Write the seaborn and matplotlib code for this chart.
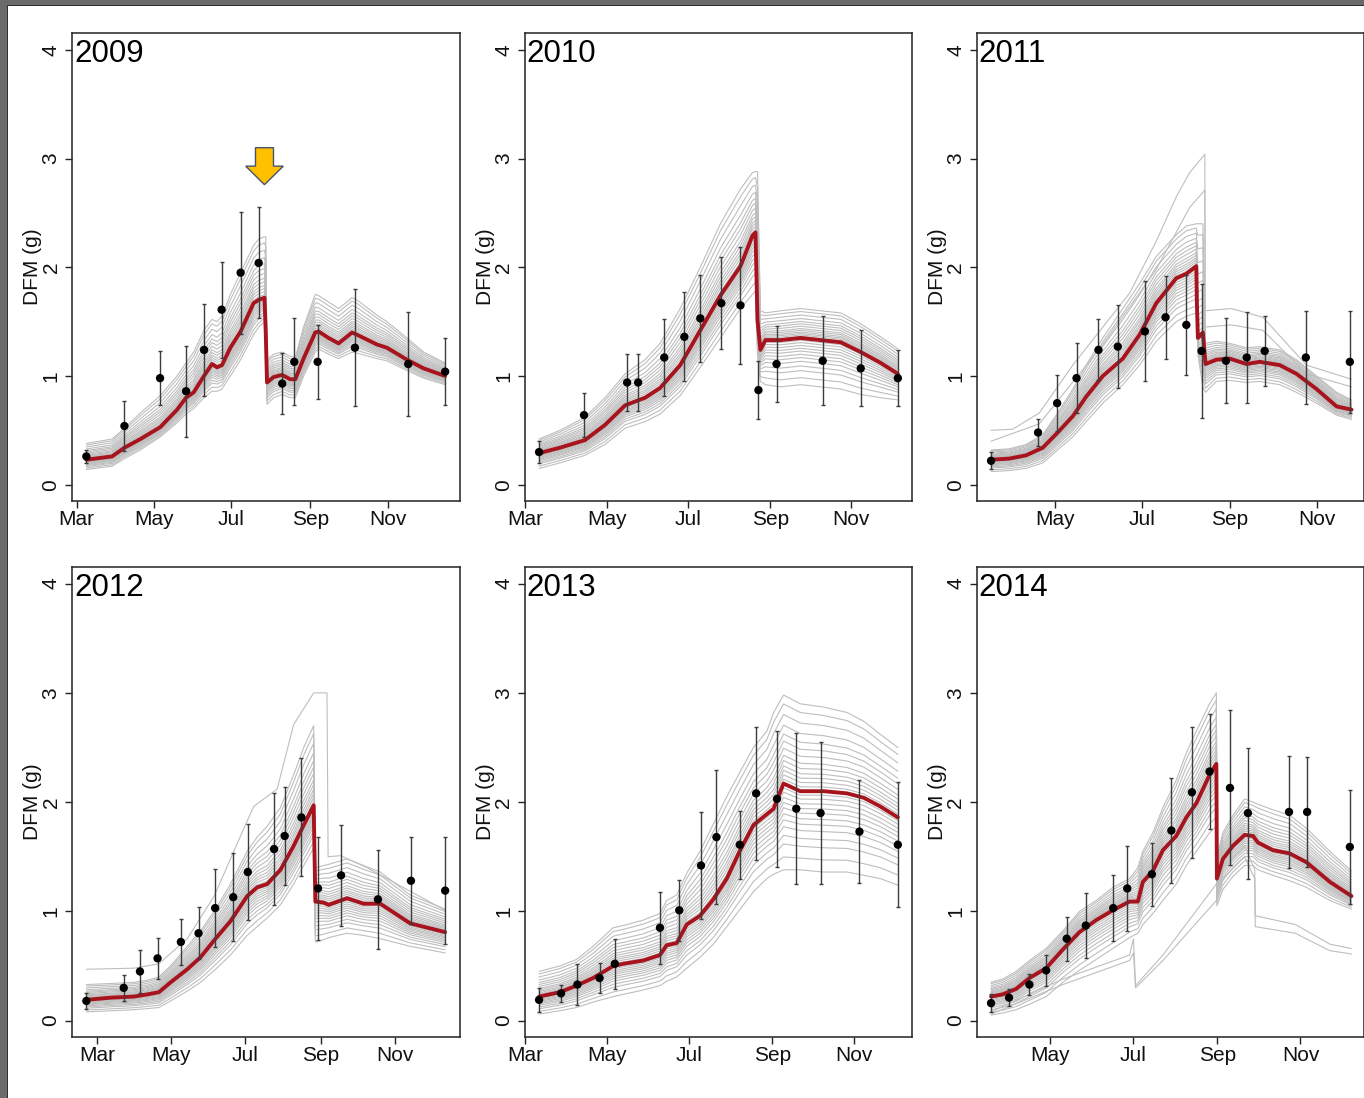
import numpy as np
import pandas as pd
import matplotlib
matplotlib.use("Agg")
import matplotlib.pyplot as plt
import matplotlib.dates as mdates
import matplotlib.patches as mpatches
import seaborn as sns

# ---------------------------------------------------------------------------
# Observed dry foliage mass (day of year, mean, +/- error)
# ---------------------------------------------------------------------------
obs_2009_doy = [67.6, 97.6, 125.7, 146.2, 160.4, 174.2, 189.2, 203.4, 222.0, 231.5, 249.9, 279.3, 321.3, 350.4]
obs_2009_dfm = [0.26, 0.54, 0.98, 0.86, 1.24, 1.61, 1.95, 2.04, 0.93, 1.13, 1.13, 1.26, 1.11, 1.04]
obs_2009_err = [0.06, 0.23, 0.25, 0.42, 0.42, 0.44, 0.56, 0.51, 0.28, 0.40, 0.34, 0.54, 0.48, 0.31]

obs_2010_doy = [70.2, 104.0, 136.4, 144.7, 164.3, 179.4, 191.4, 207.2, 221.6, 235.1, 248.7, 283.4, 312.0, 339.9]
obs_2010_dfm = [0.30, 0.64, 0.94, 0.94, 1.17, 1.36, 1.53, 1.67, 1.65, 0.87, 1.11, 1.14, 1.07, 0.98]
obs_2010_err = [0.10, 0.20, 0.26, 0.26, 0.35, 0.41, 0.40, 0.42, 0.54, 0.27, 0.35, 0.41, 0.35, 0.26]

obs_2011_doy = [76.3, 109.3, 122.7, 136.3, 151.7, 165.3, 184.3, 198.8, 213.4, 224.1, 241.2, 255.8, 268.4, 297.3, 328.2]
obs_2011_dfm = [0.22, 0.48, 0.75, 0.98, 1.24, 1.27, 1.41, 1.54, 1.47, 1.23, 1.14, 1.17, 1.23, 1.17, 1.13]
obs_2011_err = [0.08, 0.12, 0.26, 0.32, 0.28, 0.38, 0.46, 0.38, 0.46, 0.62, 0.39, 0.42, 0.32, 0.43, 0.47]

obs_2012_doy = [51.9, 82.7, 96.1, 110.6, 129.8, 144.4, 158.1, 173.0, 185.0, 206.7, 215.4, 229.2, 242.9, 261.9, 292.3, 319.5, 347.7]
obs_2012_dfm = [0.18, 0.30, 0.45, 0.57, 0.72, 0.80, 1.03, 1.13, 1.36, 1.57, 1.69, 1.86, 1.21, 1.33, 1.11, 1.28, 1.19]
obs_2012_err = [0.07, 0.12, 0.20, 0.19, 0.21, 0.24, 0.36, 0.40, 0.44, 0.51, 0.45, 0.54, 0.47, 0.46, 0.45, 0.40, 0.49]

obs_2013_doy = [70.2, 86.6, 98.8, 115.3, 126.7, 160.3, 174.7, 190.9, 202.4, 219.8, 232.0, 247.5, 261.9, 280.0, 309.0, 337.6]
obs_2013_dfm = [0.19, 0.25, 0.33, 0.39, 0.52, 0.85, 1.01, 1.42, 1.68, 1.61, 2.08, 2.03, 1.94, 1.90, 1.73, 1.61]
obs_2013_err = [0.11, 0.08, 0.19, 0.14, 0.23, 0.33, 0.28, 0.49, 0.61, 0.31, 0.61, 0.62, 0.69, 0.65, 0.47, 0.57]

obs_2014_doy = [77.6, 90.8, 105.8, 118.1, 133.2, 147.2, 167.4, 177.7, 195.8, 210.1, 225.2, 238.2, 253.2, 266.4, 296.6, 309.9, 341.3]
obs_2014_dfm = [0.16, 0.21, 0.33, 0.46, 0.75, 0.87, 1.03, 1.21, 1.34, 1.74, 2.09, 2.28, 2.13, 1.90, 1.91, 1.91, 1.59]
obs_2014_err = [0.08, 0.08, 0.10, 0.14, 0.20, 0.30, 0.30, 0.39, 0.29, 0.48, 0.60, 0.53, 0.71, 0.60, 0.51, 0.50, 0.52]

# ---------------------------------------------------------------------------
# Simulated DFM: best run plus the upper / lower edge of the ensemble band
# ---------------------------------------------------------------------------
fit_2009_doy = [67.6, 87.9, 97.6, 110.2, 125.9, 139.1, 146.2, 152.2, 160.3, 166.6, 170.6, 174.5, 181.1, 189.2, 199.4,
                203.4, 208.0, 209.0, 210.0, 215.2, 221.8, 228.3, 232.3, 238.8, 248.0, 250.6, 258.5, 266.4, 277.0,
                280.9, 296.6, 304.5, 320.3, 333.4, 350.4]
fit_2009_best = [0.23, 0.26, 0.34, 0.42, 0.53, 0.69, 0.80, 0.85, 1.00, 1.11, 1.08, 1.10, 1.26, 1.41, 1.67, 1.70, 1.72,
                 1.40, 0.94, 0.99, 1.01, 0.97, 0.97, 1.16, 1.40, 1.41, 1.35, 1.30, 1.40, 1.38, 1.29, 1.26, 1.15, 1.07, 1.00]
fit_2009_hi = [0.38, 0.42, 0.52, 0.66, 0.82, 1.00, 1.12, 1.22, 1.42, 1.52, 1.50, 1.55, 1.75, 1.95, 2.20, 2.26, 2.28,
               2.28, 1.15, 1.20, 1.22, 1.18, 1.17, 1.45, 1.75, 1.74, 1.68, 1.62, 1.72, 1.70, 1.56, 1.50, 1.35, 1.22, 1.12]
fit_2009_lo = [0.14, 0.17, 0.24, 0.32, 0.44, 0.57, 0.65, 0.70, 0.80, 0.86, 0.86, 0.88, 1.00, 1.15, 1.38, 1.45, 1.50,
               1.30, 0.74, 0.80, 0.83, 0.80, 0.80, 1.00, 1.22, 1.25, 1.20, 1.16, 1.22, 1.21, 1.16, 1.14, 1.05, 0.98, 0.92]

fit_2010_doy = [70.2, 85.9, 104.7, 119.8, 134.9, 149.9, 161.2, 176.3, 191.4, 206.5, 221.6, 230.6, 232.9, 234.4, 236.6,
                240.4, 251.7, 266.8, 281.9, 297.0, 312.0, 327.0, 339.9]
fit_2010_best = [0.29, 0.34, 0.41, 0.55, 0.73, 0.80, 0.89, 1.10, 1.42, 1.74, 2.01, 2.29, 2.32, 1.51, 1.24, 1.33, 1.33,
                 1.35, 1.33, 1.31, 1.22, 1.12, 1.02]
fit_2010_hi = [0.42, 0.50, 0.62, 0.80, 1.02, 1.15, 1.30, 1.62, 2.00, 2.40, 2.72, 2.87, 2.88, 2.88, 1.60, 1.58, 1.60,
               1.62, 1.60, 1.58, 1.48, 1.36, 1.25]
fit_2010_lo = [0.15, 0.20, 0.27, 0.37, 0.52, 0.58, 0.65, 0.82, 1.08, 1.35, 1.62, 1.75, 1.78, 1.20, 0.95, 0.92, 0.90,
               0.92, 0.90, 0.88, 0.83, 0.80, 0.78]

fit_2011_doy = [76.3, 89.1, 100.9, 112.6, 123.1, 133.7, 143.1, 154.8, 168.8, 180.6, 192.3, 206.4, 213.4, 220.4, 220.8,
                221.5, 225.0, 226.9, 234.5, 243.8, 255.6, 264.9, 279.0, 290.7, 304.8, 318.9, 329.4]
fit_2011_best = [0.23, 0.24, 0.27, 0.34, 0.48, 0.63, 0.81, 1.00, 1.16, 1.38, 1.67, 1.90, 1.94, 2.01, 1.68, 1.35, 1.40,
                 1.11, 1.15, 1.16, 1.11, 1.13, 1.10, 1.02, 0.88, 0.72, 0.69]
fit_2011_hi = [0.32, 0.33, 0.37, 0.46, 0.66, 0.88, 1.10, 1.35, 1.62, 1.85, 2.10, 2.30, 2.38, 2.40, 2.40, 2.40, 2.40,
               1.30, 1.32, 1.30, 1.26, 1.27, 1.24, 1.15, 1.00, 0.85, 0.78]
fit_2011_lo = [0.12, 0.13, 0.15, 0.20, 0.32, 0.44, 0.58, 0.75, 0.92, 1.10, 1.32, 1.50, 1.55, 1.58, 1.50, 1.20, 0.90,
               0.85, 0.95, 0.96, 0.94, 0.95, 0.92, 0.85, 0.75, 0.64, 0.60]

fit_2012_doy = [51.9, 72.0, 91.1, 102.2, 111.7, 121.3, 135.1, 146.0, 158.4, 170.7, 184.5, 192.7, 201.0, 211.9, 222.8,
                231.1, 239.3, 240.7, 247.5, 251.7, 266.8, 280.5, 294.2, 318.9, 347.7]
fit_2012_best = [0.19, 0.21, 0.22, 0.24, 0.26, 0.35, 0.47, 0.58, 0.75, 0.91, 1.14, 1.22, 1.25, 1.38, 1.60, 1.79, 1.97,
                 1.09, 1.08, 1.06, 1.12, 1.07, 1.07, 0.89, 0.81]
fit_2012_hi = [0.33, 0.34, 0.35, 0.37, 0.40, 0.50, 0.68, 0.82, 1.02, 1.25, 1.55, 1.68, 1.78, 1.95, 2.25, 2.50, 2.70,
               1.40, 1.42, 1.43, 1.48, 1.42, 1.36, 1.15, 1.02]
fit_2012_lo = [0.08, 0.09, 0.10, 0.11, 0.12, 0.18, 0.27, 0.35, 0.47, 0.60, 0.78, 0.86, 0.94, 1.06, 1.25, 1.42, 1.58,
               0.72, 0.74, 0.76, 0.80, 0.78, 0.75, 0.68, 0.62]

fit_2013_doy = [70.2, 85.6, 98.1, 110.5, 125.4, 132.9, 147.8, 160.3, 165.3, 172.8, 180.3, 190.2, 200.1, 210.1, 220.1,
                230.0, 240.0, 245.0, 252.4, 264.9, 282.3, 299.8, 312.2, 324.6, 337.6]
fit_2013_best = [0.22, 0.26, 0.32, 0.39, 0.50, 0.52, 0.55, 0.60, 0.69, 0.71, 0.88, 0.96, 1.11, 1.30, 1.56, 1.79, 1.89,
                 1.94, 2.17, 2.10, 2.10, 2.08, 2.04, 1.96, 1.86]
fit_2013_hi = [0.45, 0.50, 0.56, 0.68, 0.85, 0.87, 0.92, 0.98, 1.10, 1.15, 1.35, 1.55, 1.80, 2.05, 2.28, 2.50, 2.65,
               2.82, 2.98, 2.90, 2.87, 2.82, 2.74, 2.62, 2.50]
fit_2013_lo = [0.06, 0.09, 0.12, 0.17, 0.22, 0.24, 0.28, 0.32, 0.36, 0.40, 0.48, 0.58, 0.70, 0.86, 1.02, 1.18, 1.30,
               1.34, 1.38, 1.38, 1.36, 1.36, 1.33, 1.30, 1.24]

fit_2014_doy = [77.6, 86.1, 96.0, 105.8, 118.1, 130.3, 142.6, 154.9, 167.1, 179.4, 185.5, 189.2, 196.5, 203.9, 213.7,
                221.1, 228.5, 238.2, 243.2, 243.6, 248.0, 255.4, 264.0, 270.1, 273.8, 284.8, 297.1, 309.4, 326.6, 342.5]
fit_2014_best = [0.22, 0.24, 0.29, 0.39, 0.48, 0.65, 0.81, 0.92, 1.01, 1.09, 1.09, 1.27, 1.37, 1.56, 1.69, 1.86, 1.99,
                 2.25, 2.35, 1.30, 1.48, 1.60, 1.70, 1.69, 1.63, 1.56, 1.53, 1.45, 1.27, 1.14]
fit_2014_hi = [0.35, 0.38, 0.45, 0.55, 0.66, 0.82, 1.00, 1.10, 1.22, 1.30, 1.40, 1.55, 1.72, 1.95, 2.20, 2.45, 2.65,
               2.90, 3.00, 1.50, 1.72, 1.88, 2.03, 2.00, 1.98, 1.93, 1.88, 1.76, 1.55, 1.37]
fit_2014_lo = [0.05, 0.07, 0.10, 0.15, 0.22, 0.35, 0.46, 0.56, 0.66, 0.76, 0.80, 0.88, 0.98, 1.10, 1.25, 1.42, 1.55,
               1.72, 1.78, 1.05, 1.20, 1.32, 1.42, 1.42, 1.38, 1.33, 1.28, 1.22, 1.10, 1.02]

# Ensemble members that leave the main band
odd_2011_a_doy = [76.3, 91.4, 110.2, 133.7, 154.8, 173.5, 192.3, 206.4, 215.7, 226.4, 226.6, 245.0, 267.2, 297.7, 329.4]
odd_2011_a_dfm = [0.50, 0.51, 0.66, 1.10, 1.45, 1.76, 2.24, 2.65, 2.87, 3.04, 1.60, 1.62, 1.54, 1.10, 0.97]
odd_2011_b_doy = [76.3, 110.2, 154.8, 192.3, 215.7, 226.4, 226.6, 245.0, 267.2, 297.7, 329.4]
odd_2011_b_dfm = [0.40, 0.56, 1.29, 1.98, 2.55, 2.71, 1.45, 1.47, 1.42, 1.02, 0.90]
odd_2012_a_doy = [51.9, 91.1, 111.7, 135.1, 157.3, 179.0, 189.8, 209.2, 222.8, 239.3, 250.3, 251.2, 261.4, 283.3, 347.7]
odd_2012_a_dfm = [0.47, 0.48, 0.52, 0.75, 1.14, 1.69, 1.96, 2.12, 2.71, 3.00, 3.00, 1.50, 1.51, 1.40, 1.01]
odd_2014_a_doy = [77.6, 130.3, 179.4, 182.3, 183.8, 203.9, 243.2, 248.0, 264.0, 271.4, 271.8, 301.2, 326.6, 342.5]
odd_2014_a_dfm = [0.08, 0.38, 0.60, 0.75, 0.32, 0.60, 1.25, 1.40, 1.60, 1.38, 0.96, 0.88, 0.70, 0.66]
odd_2014_b_doy = [77.6, 130.3, 179.4, 182.3, 183.8, 203.9, 243.2, 248.0, 264.0, 271.4, 271.8, 301.2, 326.6, 342.5]
odd_2014_b_dfm = [0.06, 0.33, 0.55, 0.62, 0.30, 0.55, 1.10, 1.30, 1.50, 1.30, 0.86, 0.80, 0.64, 0.61]

# Position of each ensemble member inside the band (-1 = lower edge, 0 = best run, 1 = upper edge)
member_weights = [-1.0, -0.85, -0.7, -0.6, -0.5, -0.42, -0.35, -0.28, -0.22, -0.16, -0.1, -0.05, 0.0,
                  0.05, 0.1, 0.15, 0.2, 0.26, 0.32, 0.4, 0.48, 0.56, 0.66, 0.78, 0.9, 1.0]

years = [2009, 2010, 2011, 2012, 2013, 2014]
harvest_2009_doy = 208.0  # marked with the arrow

obs = {
    2009: (obs_2009_doy, obs_2009_dfm, obs_2009_err),
    2010: (obs_2010_doy, obs_2010_dfm, obs_2010_err),
    2011: (obs_2011_doy, obs_2011_dfm, obs_2011_err),
    2012: (obs_2012_doy, obs_2012_dfm, obs_2012_err),
    2013: (obs_2013_doy, obs_2013_dfm, obs_2013_err),
    2014: (obs_2014_doy, obs_2014_dfm, obs_2014_err),
}
fits = {
    2009: (fit_2009_doy, fit_2009_best, fit_2009_hi, fit_2009_lo),
    2010: (fit_2010_doy, fit_2010_best, fit_2010_hi, fit_2010_lo),
    2011: (fit_2011_doy, fit_2011_best, fit_2011_hi, fit_2011_lo),
    2012: (fit_2012_doy, fit_2012_best, fit_2012_hi, fit_2012_lo),
    2013: (fit_2013_doy, fit_2013_best, fit_2013_hi, fit_2013_lo),
    2014: (fit_2014_doy, fit_2014_best, fit_2014_hi, fit_2014_lo),
}
odd_members = {
    2011: [(odd_2011_a_doy, odd_2011_a_dfm), (odd_2011_b_doy, odd_2011_b_dfm)],
    2012: [(odd_2012_a_doy, odd_2012_a_dfm)],
    2014: [(odd_2014_a_doy, odd_2014_a_dfm), (odd_2014_b_doy, odd_2014_b_dfm)],
}

RED = "#A8141E"
GREY = "#BEBEBE"
BAR = "#3C3C3C"


def to_dates(year, doy):
    return pd.Timestamp(f"{year}-01-01") + pd.to_timedelta(np.asarray(doy, dtype=float) - 1.0, unit="D")


def ensemble_frame(year):
    doy, best, hi, lo = (np.asarray(a, dtype=float) for a in fits[year])
    dates = to_dates(year, doy)
    frames = []
    for k, w in enumerate(member_weights):
        edge = hi if w >= 0 else lo
        vals = best + abs(w) * (edge - best)
        frames.append(pd.DataFrame({"date": dates, "dfm": vals, "member": k}))
    for j, (odoy, oval) in enumerate(odd_members.get(year, [])):
        frames.append(pd.DataFrame({"date": to_dates(year, odoy), "dfm": oval,
                                    "member": len(member_weights) + j}))
    return pd.concat(frames, ignore_index=True)


sns.set_theme(style="white")
plt.rcParams["font.family"] = ["Liberation Sans", "DejaVu Sans"]

W, H = 1364, 1098
fig = plt.figure(figsize=(W / 100, H / 100), dpi=100)
fig.patch.set_facecolor("white")

col_left = [72.0, 524.7, 976.7]
ax_w = 387.5
row_top = [33.0, 566.7]
row_bot = [501.0, 1037.0]

for i, year in enumerate(years):
    r, c = divmod(i, 3)
    left = col_left[c] / W
    bottom = 1 - row_bot[r] / H
    height = (row_bot[r] - row_top[r]) / H
    ax = fig.add_axes([left, bottom, ax_w / W, height])

    ens = ensemble_frame(year)
    sns.lineplot(data=ens, x="date", y="dfm", units="member", estimator=None, sort=False,
                 color=GREY, linewidth=0.8, ax=ax, legend=False)

    fdoy, fbest, _, _ = fits[year]
    sns.lineplot(x=to_dates(year, fdoy), y=fbest, sort=False, color=RED, linewidth=2.8, ax=ax)

    odoy, odfm, oerr = obs[year]
    odates = to_dates(year, odoy)
    ax.errorbar(odates, odfm, yerr=oerr, fmt="none", ecolor=BAR, elinewidth=1.0,
                capsize=1.6, capthick=1.0, zorder=4)
    sns.scatterplot(x=odates, y=odfm, color="black", s=36, edgecolor="none", ax=ax, zorder=5)

    # R-style axis range: 4 % padding around the sampling dates
    span = odates.max() - odates.min()
    ax.set_xlim(odates.min() - 0.04 * span, odates.max() + 0.04 * span)
    ax.set_ylim(-0.15, 4.155)
    ax.set_yticks([0, 1, 2, 3, 4])
    ax.xaxis.set_major_locator(mdates.MonthLocator(bymonth=[3, 5, 7, 9, 11]))
    ax.xaxis.set_major_formatter(mdates.DateFormatter("%b"))

    ax.set_xlabel("")
    ax.set_ylabel("DFM (g)", fontsize=15, color="#111111")
    ax.yaxis.set_label_coords(-30 / ax_w, 0.5)

    for s in ax.spines.values():
        s.set_color("#222222")
        s.set_linewidth(1.1)
    ax.tick_params(axis="both", which="major", direction="out", length=5, width=1.0,
                   color="#222222", labelsize=15, labelcolor="#111111")
    ax.tick_params(axis="x", pad=1.5, bottom=True)
    ax.tick_params(axis="y", pad=3.2, left=True, labelrotation=90)
    for lab in ax.get_yticklabels():
        lab.set_va("center")

    ax.text(0.005, 0.987, str(year), transform=ax.transAxes, ha="left", va="top",
            fontsize=22.5, color="black")

    if year == 2009:
        x_tip = mdates.date2num(to_dates(2009, [harvest_2009_doy])[0])
        arrow = mpatches.FancyArrow(x_tip, 3.10, 0, -0.34, width=14.2, head_width=29.6,
                                    head_length=0.17, length_includes_head=True,
                                    facecolor="#FFC000", edgecolor="#44546A", linewidth=1.0, zorder=6)
        ax.add_patch(arrow)

# window frame along the top and left edges
fig.patches.append(mpatches.Rectangle((0, 1 - 5 / H), 1, 5 / H, transform=fig.transFigure,
                                      facecolor="#6A6A6A", edgecolor="none", zorder=10))
fig.patches.append(mpatches.Rectangle((0, 0), 7 / W, 1, transform=fig.transFigure,
                                      facecolor="#6A6A6A", edgecolor="none", zorder=10))
fig.patches.append(mpatches.Rectangle((7 / W, 0), 1.2 / W, 1 - 5 / H, transform=fig.transFigure,
                                      facecolor="#2E2E2E", edgecolor="none", zorder=10))
fig.patches.append(mpatches.Rectangle((7 / W, 1 - 6.2 / H), 1, 1.2 / H, transform=fig.transFigure,
                                      facecolor="#2E2E2E", edgecolor="none", zorder=10))

fig.savefig("out.png", dpi=100)
